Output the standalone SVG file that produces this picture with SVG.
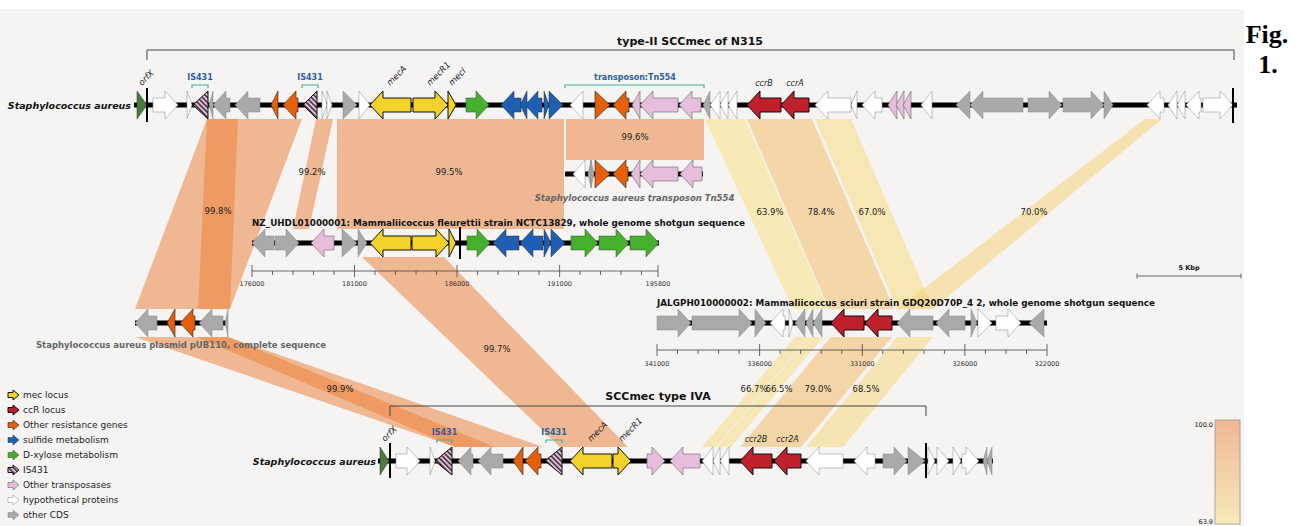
<svg xmlns="http://www.w3.org/2000/svg" width="1299" height="526" viewBox="0 0 1299 526">
<style>
.bb{stroke:#000;stroke-width:5}
.vl{stroke:#000;stroke-width:2}
.y{fill:#f4d22c;stroke:#111;stroke-width:1}
.r{fill:#c01f2c;stroke:#111;stroke-width:1}
.o{fill:#e6600a;stroke:#222;stroke-width:.6}
.b{fill:#1e5fb3;stroke:#333;stroke-width:.5}
.gn{fill:#45b02e;stroke:#444;stroke-width:.5}
.p{fill:#e6bedc;stroke:#666;stroke-width:.6}
.w{fill:#fff;stroke:#999;stroke-width:.6}
.gr{fill:#a9a9a9;stroke:#888;stroke-width:.5}
.is{fill:url(#hatch);stroke:#111;stroke-width:1}
.ox{fill:#4a7a3c;stroke:#333;stroke-width:.5}
.lk polygon{opacity:.5}
.hi{fill:#eb7c32}
text{font-family:"DejaVu Sans","Liberation Sans",sans-serif;fill:#111}
.pct{font-size:8.5px;text-anchor:middle;fill:#222}
.tl{font-size:9.5px;font-weight:bold;font-style:italic;text-anchor:end}
.ttl{font-size:11px;font-weight:bold;text-anchor:middle}
.sub{font-size:8.5px;font-weight:bold}
.gl{font-size:8.5px;font-weight:bold;fill:#666;text-anchor:middle}
.rot{font-size:8.5px;font-style:italic;fill:#222}
.ccr{font-size:8px;font-style:italic;fill:#222;text-anchor:middle}
.isl{font-size:8px;font-weight:bold;fill:#2e5f9e;text-anchor:middle}
.isb{fill:none;stroke:#3fb0a2;stroke-width:1.2}
.br{fill:none;stroke:#444;stroke-width:1}
.ax{stroke:#444;stroke-width:.8}
.tk{font-size:6.5px;fill:#333;text-anchor:middle}
.lg{font-size:9px;fill:#222}
.fig{font-family:"Liberation Serif","Times New Roman",serif;font-size:26px;font-weight:bold;text-anchor:middle;fill:#000}
</style>
<defs>
<pattern id="hatch" width="3.5" height="3.5" patternUnits="userSpaceOnUse" patternTransform="rotate(-45)">
<rect width="3.5" height="3.5" fill="#e6bedc"/><rect width="1.4" height="3.5" fill="#222"/>
</pattern>
<linearGradient id="cbar" x1="0" y1="0" x2="0" y2="1">
<stop offset="0" stop-color="#f0b892"/><stop offset="1" stop-color="#f7eab7"/>
</linearGradient>
</defs>
<rect x="0" y="0" width="1299" height="526" fill="#fff"/>
<rect x="0" y="9" width="1244" height="517" fill="#f5f4f2"/>

<g id="links" class="lk">
<polygon class="hi" points="566,119 704,119 704,160 566,160"/>
<polygon class="hi" points="337,119 564,119 564,229 337,229"/>
<polygon class="hi" points="316,119 333,119 309,229 293,229"/>
<polygon class="hi" points="207,119 302,119 230,309 135,309"/>
<polygon class="hi" points="207,119 238,119 230,309 198,309"/>
<polygon class="hi" points="362,257 444,257 628,447 560,447"/>
<polygon class="hi" points="135,337 228,337 543,447 455,447"/>
<polygon class="hi" points="197,337 228,337 495,447 455,447"/>
<polygon fill="#f9e07c" points="705,119 745,119 828,309 793,309"/>
<polygon fill="#f3b85e" points="747,119 812,119 894,309 829,309"/>
<polygon fill="#f8d776" points="815,119 851,119 933,309 897,309"/>
<polygon fill="#f7cf70" points="1145,119 1162,119 933,309 897,309"/>
<polygon fill="#f8d876" points="795,337 808,337 716,447 702,447"/>
<polygon fill="#f8d977" points="809,337 823,337 731,447 717,447"/>
<polygon fill="#f3b65d" points="831,337 892,337 801,447 740,447"/>
<polygon fill="#f7d373" points="897,337 933,337 843,447 806,447"/>
</g>
<g id="link-labels">
<text class="pct" x="218" y="214">99.8%</text>
<text class="pct" x="312" y="175">99.2%</text>
<text class="pct" x="449" y="175">99.5%</text>
<text class="pct" x="635" y="140">99.6%</text>
<text class="pct" x="770" y="215">63.9%</text>
<text class="pct" x="821" y="215">78.4%</text>
<text class="pct" x="872" y="215">67.0%</text>
<text class="pct" x="1034" y="215">70.0%</text>
<text class="pct" x="497" y="352">99.7%</text>
<text class="pct" x="340" y="392">99.9%</text>
<text class="pct" x="754" y="392">66.7%</text>
<text class="pct" x="779" y="392">66.5%</text>
<text class="pct" x="818" y="392">79.0%</text>
<text class="pct" x="866" y="392">68.5%</text>
</g>

<g id="track-N315">
<path class="br" d="M147,60 V50 H1234 V60"/>
<text class="ttl" x="690" y="45">type-II SCCmec of N315</text>
<text class="tl" x="131" y="109">Staphylococcus aureus</text>
<line class="bb" x1="134" y1="105" x2="1237" y2="105"/>
<polygon class="ox" points="137,91 147,105 137,119"/>
<polygon class="w" points="153,98 165,98 165,91 178,105 165,119 165,112 153,112"/>
<polygon class="w" points="187,91 192,105 187,119"/>
<polygon class="is" points="208,91 193,105 208,119"/>
<polygon class="gr" points="213,91 209,105 213,119"/>
<polygon class="gr" points="230,98 226,98 226,91 213,105 226,119 226,112 230,112"/>
<polygon class="gr" points="260,98 248,98 248,91 235,105 248,119 248,112 260,112"/>
<polygon class="o" points="278,91 271,105 278,119"/>
<polygon class="o" points="298,98 296,98 296,91 283,105 296,119 296,112 298,112"/>
<polygon class="is" points="317,91 303,105 317,119"/>
<polygon class="w" points="322,91 327,105 322,119"/>
<polygon class="w" points="327,91 332,105 327,119"/>
<polygon class="gr" points="343,91 357,105 343,119"/>
<polygon class="w" points="359,91 370,105 359,119"/>
<polygon class="y" points="411,98 383,98 383,91 370,105 383,119 383,112 411,112"/>
<polygon class="y" points="413,98 435,98 435,91 448,105 435,119 435,112 413,112"/>
<polygon class="y" points="448,91 456,105 448,119"/>
<polygon class="gn" points="466,98 476,98 476,91 489,105 476,119 476,112 466,112"/>
<polygon class="b" points="521,98 514,98 514,91 501,105 514,119 514,112 521,112"/>
<polygon class="b" points="527,91 520,105 527,119"/>
<polygon class="b" points="542,98 538,98 538,91 525,105 538,119 538,112 542,112"/>
<polygon class="b" points="544,91 549,105 544,119"/>
<polygon class="b" points="549,91 563,105 549,119"/>
<polygon class="w" points="583,91 570,105 583,119"/>
<polygon class="o" points="595,91 610,105 595,119"/>
<polygon class="o" points="629,98 626,98 626,91 613,105 626,119 626,112 629,112"/>
<polygon class="p" points="640,91 632,105 640,119"/>
<polygon class="p" points="678,98 653,98 653,91 640,105 653,119 653,112 678,112"/>
<polygon class="p" points="701,98 692,98 692,91 679,105 692,119 692,112 701,112"/>
<polygon class="gr" points="710,91 703,105 710,119"/>
<polygon class="w" points="720,91 710,105 720,119"/>
<polygon class="w" points="728,91 720,105 728,119"/>
<polygon class="w" points="737,91 728,105 737,119"/>
<polygon class="r" points="781,98 760,98 760,91 747,105 760,119 760,112 781,112"/>
<polygon class="r" points="809,98 794,98 794,91 781,105 794,119 794,112 809,112"/>
<polygon class="w" points="851,98 828,98 828,91 815,105 828,119 828,112 851,112"/>
<polygon class="w" points="857,91 851,105 857,119"/>
<polygon class="w" points="882,98 875,98 875,91 862,105 875,119 875,112 882,112"/>
<polygon class="p" points="897,91 888,105 897,119"/>
<polygon class="p" points="904,91 896,105 904,119"/>
<polygon class="p" points="911,91 903,105 911,119"/>
<polygon class="w" points="932,91 921,105 932,119"/>
<polygon class="gr" points="970,91 956,105 970,119"/>
<polygon class="gr" points="1023,98 983,98 983,91 970,105 983,119 983,112 1023,112"/>
<polygon class="gr" points="1028,98 1049,98 1049,91 1062,105 1049,119 1049,112 1028,112"/>
<polygon class="gr" points="1063,98 1091,98 1091,91 1104,105 1091,119 1091,112 1063,112"/>
<polygon class="gr" points="1104,91 1113,105 1104,119"/>
<polygon class="w" points="1164,98 1160,98 1160,91 1147,105 1160,119 1160,112 1164,112"/>
<polygon class="w" points="1177,91 1168,105 1177,119"/>
<polygon class="w" points="1185,91 1177,105 1185,119"/>
<polygon class="w" points="1201,98 1199,98 1199,91 1186,105 1199,119 1199,112 1201,112"/>
<polygon class="w" points="1203,98 1220,98 1220,91 1233,105 1220,119 1220,112 1203,112"/>
<line class="vl" x1="147" y1="88" x2="147" y2="122"/>
<line class="vl" x1="1233" y1="88" x2="1233" y2="123"/>
<text class="isl" x="200" y="80">IS431</text>
<path class="isb" d="M192,88 V85 H208 V88"/>
<text class="isl" x="310" y="80">IS431</text>
<path class="isb" d="M302,88 V85 H318 V88"/>
<text class="isl" x="635" y="80">transposon:Tn554</text>
<path class="isb" d="M565,88 V85 H704 V88"/>
<text class="rot" transform="translate(142,86) rotate(-45)">orfX</text>
<text class="rot" transform="translate(390,86) rotate(-45)">mecA</text>
<text class="rot" transform="translate(430,86) rotate(-45)">mecR1</text>
<text class="rot" transform="translate(452,86) rotate(-45)">mecI</text>
<text class="ccr" x="764" y="86">ccrB</text>
<text class="ccr" x="795" y="86">ccrA</text>
</g>

<g id="track-Tn554">
<line class="bb" x1="565" y1="174" x2="703" y2="174"/>
<polygon class="w" points="585,160 573,174 585,188"/>
<polygon class="gr" points="591,160 588,174 591,188"/>
<polygon class="gr" points="591,160 594,174 591,188"/>
<polygon class="o" points="595,160 610,174 595,188"/>
<polygon class="o" points="628,167 626,167 626,160 613,174 626,188 626,181 628,181"/>
<polygon class="p" points="640,160 631,174 640,188"/>
<polygon class="p" points="678,167 653,167 653,160 640,174 653,188 653,181 678,181"/>
<polygon class="p" points="702,167 693,167 693,160 680,174 693,188 693,181 702,181"/>
<text class="gl" x="634.5" y="201" font-style="italic" style="font-style:italic">Staphylococcus aureus transposon Tn554</text>
</g>

<g id="track-NZ_UHDL01000001">
<text class="sub" x="252" y="226" textLength="493" lengthAdjust="spacingAndGlyphs">NZ_UHDL01000001: Mammaliicoccus fleurettii strain NCTC13829, whole genome shotgun sequence</text>
<line class="bb" x1="252" y1="243" x2="659" y2="243"/>
<polygon class="gr" points="274,236 265,236 265,229 252,243 265,257 265,250 274,250"/>
<polygon class="gr" points="275,236 286,236 286,229 299,243 286,257 286,250 275,250"/>
<polygon class="p" points="334,236 324,236 324,229 311,243 324,257 324,250 334,250"/>
<polygon class="gr" points="342,229 357,243 342,257"/>
<polygon class="gr" points="358,229 367,243 358,257"/>
<polygon class="y" points="411,236 383,236 383,229 370,243 383,257 383,250 411,250"/>
<polygon class="y" points="412,236 436,236 436,229 449,243 436,257 436,250 412,250"/>
<polygon class="y" points="449,229 456,243 449,257"/>
<line class="vl" x1="460" y1="227" x2="460" y2="259"/>
<polygon class="gn" points="467,236 477,236 477,229 490,243 477,257 477,250 467,250"/>
<polygon class="b" points="519,236 506,236 506,229 493,243 506,257 506,250 519,250"/>
<polygon class="b" points="543,236 533,236 533,229 520,243 533,257 533,250 543,250"/>
<polygon class="b" points="544,229 551,243 544,257"/>
<polygon class="b" points="551,229 565,243 551,257"/>
<polygon class="gn" points="571,236 585,236 585,229 598,243 585,257 585,250 571,250"/>
<polygon class="gn" points="599,236 616,236 616,229 629,243 616,257 616,250 599,250"/>
<polygon class="gn" points="630,236 646,236 646,229 659,243 646,257 646,250 630,250"/>
<g class="ax">
<line x1="252" y1="271" x2="658" y2="271"/>
<path d="M252,265V277M354.5,265V277M457,265V277M559.6,265V277M658,265V277"/>
<path d="M272.5,271V275M293,271V275M313.5,271V275M334,271V275M375,271V275M395.5,271V275M416,271V275M436.5,271V275M477.5,271V275M498,271V275M518.5,271V275M539,271V275M580,271V275M600.5,271V275M621,271V275M641.5,271V275"/>
</g>
<text class="tk" x="252" y="286">176000</text>
<text class="tk" x="354.5" y="286">181000</text>
<text class="tk" x="457" y="286">186000</text>
<text class="tk" x="559.6" y="286">191000</text>
<text class="tk" x="658" y="286">195800</text>
</g>

<g id="track-pUB110">
<line class="bb" x1="135" y1="323" x2="228" y2="323"/>
<polygon class="gr" points="157,316 148,316 148,309 135,323 148,337 148,330 157,330"/>
<polygon class="o" points="175,309 167,323 175,337"/>
<polygon class="o" points="195,316 193,316 193,309 180,323 193,337 193,330 195,330"/>
<polygon class="gr" points="223,316 212,316 212,309 199,323 212,337 212,330 223,330"/>
<polygon class="gr" points="228,309 225,323 228,337"/>
<text class="gl" x="181" y="348">Staphylococcus aureus plasmid pUB110, complete sequence</text>
</g>

<g id="track-JALGPH010000002">
<text class="sub" x="657" y="306" textLength="498" lengthAdjust="spacingAndGlyphs">JALGPH010000002: Mammaliicoccus sciuri strain GDQ20D70P_4 2, whole genome shotgun sequence</text>
<line class="bb" x1="657" y1="323" x2="1047" y2="323"/>
<polygon class="gr" points="657,316 678,316 678,309 691,323 678,337 678,330 657,330"/>
<polygon class="gr" points="692,316 739,316 739,309 752,323 739,337 739,330 692,330"/>
<polygon class="gr" points="755,309 766,323 755,337"/>
<polygon class="w" points="785,316 783,316 783,309 770,323 783,337 783,330 785,330"/>
<polygon class="w" points="789,309 793,323 789,337"/>
<polygon class="gr" points="805,309 795,323 805,337"/>
<polygon class="gr" points="813,309 806,323 813,337"/>
<polygon class="gr" points="822,309 813,323 822,337"/>
<polygon class="r" points="864,316 844,316 844,309 831,323 844,337 844,330 864,330"/>
<polygon class="r" points="892,316 878,316 878,309 865,323 878,337 878,330 892,330"/>
<polygon class="gr" points="933,316 910,316 910,309 897,323 910,337 910,330 933,330"/>
<polygon class="gr" points="965,316 949,316 949,309 936,323 949,337 949,330 965,330"/>
<polygon class="gr" points="971,309 977,323 971,337"/>
<polygon class="w" points="978,309 992,323 978,337"/>
<polygon class="w" points="996,316 1008,316 1008,309 1021,323 1008,337 1008,330 996,330"/>
<polygon class="gr" points="1044,309 1029,323 1044,337"/>
<g class="ax">
<line x1="657" y1="350" x2="1047" y2="350"/>
<path d="M657,344V356M759.6,344V356M862.3,344V356M964.9,344V356M1047,344V356"/>
<path d="M677.5,350V354M698.1,350V354M718.6,350V354M739.1,350V354M780.2,350V354M800.7,350V354M821.2,350V354M841.8,350V354M882.8,350V354M903.4,350V354M923.9,350V354M944.4,350V354M985.4,350V354M1006,350V354M1026.5,350V354"/>
</g>
<text class="tk" x="657" y="366">341000</text>
<text class="tk" x="759.6" y="366">336000</text>
<text class="tk" x="862.3" y="366">331000</text>
<text class="tk" x="964.9" y="366">326000</text>
<text class="tk" x="1047" y="366">322000</text>
</g>

<g id="track-IVA">
<path class="br" d="M390,416 V406 H926 V416"/>
<text class="ttl" x="658" y="400">SCCmec type IVA</text>
<text class="tl" x="376" y="465">Staphylococcus aureus</text>
<line class="bb" x1="378" y1="461" x2="993" y2="461"/>
<polygon class="ox" points="380,447 389,461 380,475"/>
<polygon class="w" points="396,454 407,454 407,447 420,461 407,475 407,468 396,468"/>
<polygon class="w" points="430,447 435,461 430,475"/>
<polygon class="is" points="452,447 435,461 452,475"/>
<polygon class="gr" points="473,454 471,454 471,447 458,461 471,475 471,468 473,468"/>
<polygon class="gr" points="503,454 491,454 491,447 478,461 491,475 491,468 503,468"/>
<polygon class="o" points="523,447 513,461 523,475"/>
<polygon class="o" points="541,454 538,454 538,447 525,461 538,475 538,468 541,468"/>
<polygon class="is" points="562,447 545,461 562,475"/>
<polygon class="y" points="612,454 583,454 583,447 570,461 583,475 583,468 612,468"/>
<polygon class="y" points="613,454 618,454 618,447 631,461 618,475 618,468 613,468"/>
<polygon class="p" points="647,454 652,454 652,447 665,461 652,475 652,468 647,468"/>
<polygon class="p" points="700,454 683,454 683,447 670,461 683,475 683,468 700,468"/>
<polygon class="w" points="713,447 702,461 713,475"/>
<polygon class="w" points="720,447 713,461 720,475"/>
<polygon class="w" points="729,447 720,461 729,475"/>
<polygon class="r" points="772,454 753,454 753,447 740,461 753,475 753,468 772,468"/>
<polygon class="r" points="801,454 787,454 787,447 774,461 787,475 787,468 801,468"/>
<polygon class="w" points="843,454 819,454 819,447 806,461 819,475 819,468 843,468"/>
<polygon class="w" points="875,454 867,454 867,447 854,461 867,475 867,468 875,468"/>
<polygon class="gr" points="883,454 894,454 894,447 907,461 894,475 894,468 883,468"/>
<polygon class="gr" points="908,447 925,461 908,475"/>
<polygon class="w" points="928,447 935,461 928,475"/>
<polygon class="w" points="937,447 949,461 937,475"/>
<polygon class="w" points="953,447 961,461 953,475"/>
<polygon class="w" points="962,454 966,454 966,447 979,461 966,475 966,468 962,468"/>
<polygon class="gr" points="987,447 983,461 987,475"/>
<polygon class="gr" points="992,447 987,461 992,475"/>
<line class="vl" x1="390" y1="443" x2="390" y2="478"/>
<line class="vl" x1="926" y1="443" x2="926" y2="478"/>
<text class="isl" x="444.5" y="435">IS431</text>
<path class="isb" d="M437,443 V440 H452 V443"/>
<text class="isl" x="554" y="435">IS431</text>
<path class="isb" d="M546,443 V440 H562 V443"/>
<text class="rot" transform="translate(385,442) rotate(-45)">orfX</text>
<text class="rot" transform="translate(591,442) rotate(-45)">mecA</text>
<text class="rot" transform="translate(622,442) rotate(-45)">mecR1</text>
<text class="ccr" x="756" y="442">ccr2B</text>
<text class="ccr" x="787.5" y="442">ccr2A</text>
</g>

<g id="scalebar">
<path class="ax" d="M1137,276H1241M1137,273.5V278.5M1241,273.5V278.5"/>
<text x="1189" y="270" font-size="6.5" font-weight="bold" text-anchor="middle">5 Kbp</text>
</g>

<g id="colorbar">
<rect x="1215" y="420" width="25" height="104" fill="url(#cbar)" stroke="#999" stroke-width=".8"/>
<text x="1213" y="427" font-size="6.5" text-anchor="end" fill="#333">100.0</text>
<text x="1213" y="524" font-size="6.5" text-anchor="end" fill="#333">63.9</text>
</g>

<g id="legend">
<polygon class="y" points="8,392.5 13,392.5 13,390 19,395 13,400 13,397.5 8,397.5"/>
<text class="lg" x="23" y="398">mec locus</text>
<polygon class="r" points="8,407.5 13,407.5 13,405 19,410 13,415 13,412.5 8,412.5"/>
<text class="lg" x="23" y="413">ccR locus</text>
<polygon class="o" points="8,422.5 13,422.5 13,420 19,425 13,430 13,427.5 8,427.5"/>
<text class="lg" x="23" y="428">Other resistance genes</text>
<polygon class="b" points="8,437.5 13,437.5 13,435 19,440 13,445 13,442.5 8,442.5"/>
<text class="lg" x="23" y="443">sulfide metabolism</text>
<polygon class="gn" points="8,452.5 13,452.5 13,450 19,455 13,460 13,457.5 8,457.5"/>
<text class="lg" x="23" y="458">D-xylose metabolism</text>
<polygon class="is" points="8,467.5 13,467.5 13,465 19,470 13,475 13,472.5 8,472.5"/>
<text class="lg" x="23" y="473">IS431</text>
<polygon class="p" points="8,482.5 13,482.5 13,480 19,485 13,490 13,487.5 8,487.5"/>
<text class="lg" x="23" y="488">Other transposases</text>
<polygon class="w" points="8,497.5 13,497.5 13,495 19,500 13,505 13,502.5 8,502.5"/>
<text class="lg" x="23" y="503">hypothetical proteins</text>
<polygon class="gr" points="8,512.5 13,512.5 13,510 19,515 13,520 13,517.5 8,517.5"/>
<text class="lg" x="23" y="518">other CDS</text>
</g>

<g id="figlabel">
<text class="fig" x="1267" y="43">Fig.</text>
<text class="fig" x="1268" y="73">1.</text>
</g>
</svg>
